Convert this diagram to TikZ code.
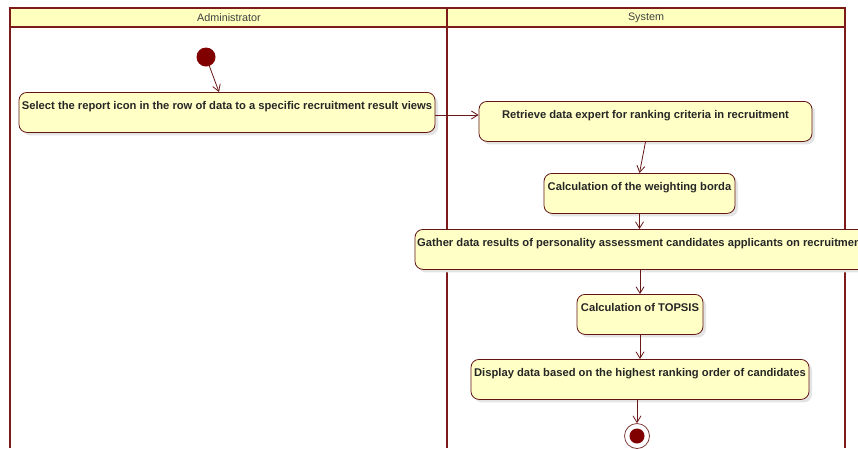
\documentclass[tikz,border=0pt]{standalone}
\usepackage{fontspec}
\setmainfont{Liberation Sans}
\usetikzlibrary{arrows.meta}
\begin{document}
\definecolor{umlred}{HTML}{7D1B1B}
\definecolor{umlfill}{HTML}{FFFFC6}
\definecolor{umlhead}{HTML}{FFFFBE}
\definecolor{umldot}{HTML}{800000}
\definecolor{umlshadow}{HTML}{E4E4E4}
\begin{tikzpicture}[x=1pt,y=-1pt,
  lane/.style={draw=umlred,line width=1.5pt},
  head/.style={font=\fontsize{10.8}{12}\selectfont,text=black!75},
  action/.style={draw=umlred!80!black,line width=0.8pt,fill=umlfill,rounded corners=8pt,
    font=\fontsize{11.2}{13}\selectfont\bfseries,text=black!85,
    inner xsep=2pt,inner ysep=5pt,text height=12pt,text depth=18pt,
    anchor=north,
    preaction={fill=umlshadow,transform canvas={shift={(3pt,-3pt)}}}},
  flow/.style={draw=umlred!85!black,line width=0.8pt,-{Straight Barb[length=6.5pt,width=8pt]}},
]
\useasboundingbox (0,0) rectangle (858,448);
\clip (0,0) rectangle (858,448);
\fill[white] (0,0) rectangle (858,448);

% swimlanes
\fill[umlhead] (10,8) rectangle (845,27);
\draw[lane] (10,448) -- (10,8) -- (845,8) -- (845,448);
\draw[lane] (10,27) -- (845,27);
\draw[lane] (447,8) -- (447,448);
\node[head] (laneA) at (229,17.5) {Administrator};
\node[head] (laneS) at (646,17.5) {System};

% start and end
\node[circle,fill=umldot,minimum size=19pt,inner sep=0pt] (start) at (206,57) {};

% actions
\node[action,minimum width=416pt] (a1) at (227,92)
  {Select the report icon in the row of data to a specific recruitment result views};
\node[action,minimum width=333pt] (a2) at (645.5,101)
  {Retrieve data expert for ranking criteria in recruitment};
\node[action,minimum width=191pt] (a3) at (639.5,173)
  {Calculation of the weighting borda};
\node[action,minimum width=452pt] (a4) at (641,229)
  {Gather data results of personality assessment candidates applicants on recruitment};
\node[action,minimum width=126pt] (a5) at (640,294)
  {Calculation of TOPSIS};
\node[action,minimum width=338pt] (a6) at (640,359)
  {Display data based on the highest ranking order of candidates};

\node[circle,draw=umlred!70!gray,line width=0.8pt,fill=white,minimum size=25pt,inner sep=0pt] (stop) at (637,436) {};
\node[circle,fill=umldot,minimum size=15pt,inner sep=0pt] at (stop) {};

% control flow
\coordinate (a1in) at (219,92);
\draw[flow] (start) -- (a1in);
\draw[flow] (a1.east |- 0,115) -- (a2.west |- 0,115);
\draw[flow] (a2.south) -- (a3.north);
\draw[flow] (a3.south) -- (a4.north -| a3.south);
\draw[flow] (a4.south -| a5.north) -- (a5.north);
\draw[flow] (a5.south) -- (a6.north -| a5.south);
\draw[flow] (a6.south -| stop.north) -- (stop.north);
\end{tikzpicture}
\end{document}
